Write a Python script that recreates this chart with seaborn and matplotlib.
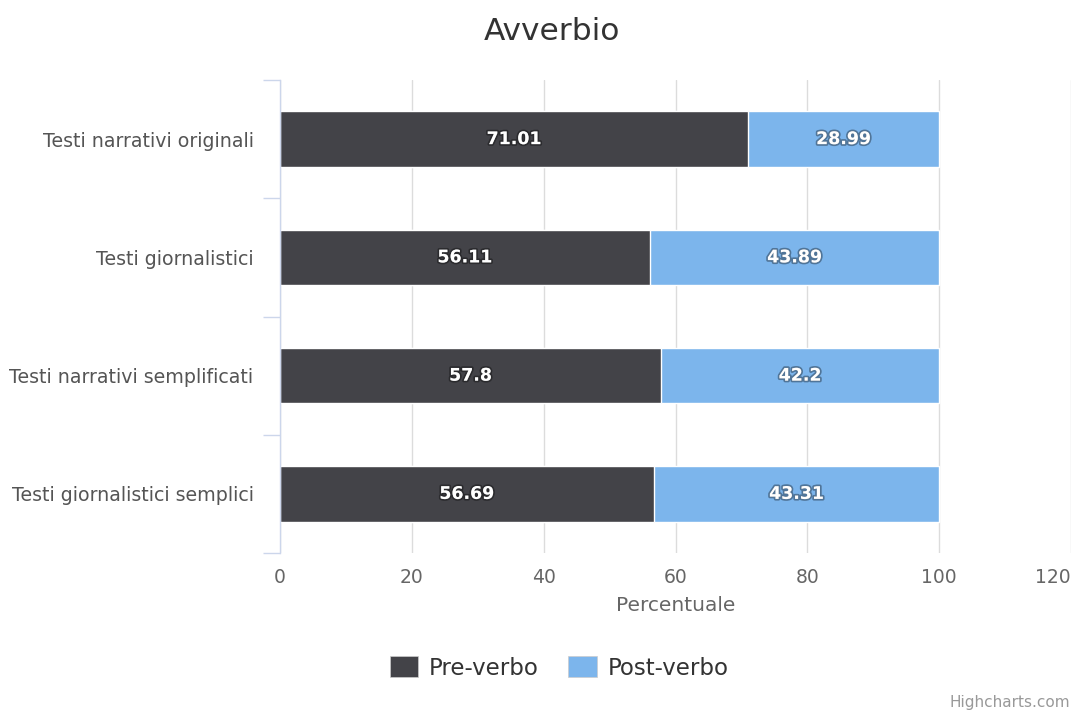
import matplotlib
matplotlib.use("Agg")
import matplotlib.pyplot as plt
import matplotlib.patheffects as pe
from matplotlib.patches import Patch
import numpy as np
import pandas as pd
import seaborn as sns

title = "Avverbio"
categories = [
    "Testi narrativi originali",
    "Testi giornalistici",
    "Testi narrativi semplificati",
    "Testi giornalistici semplici",
]
pre_verbo = [71.01, 56.11, 57.8, 56.69]
post_verbo = [28.99, 43.89, 42.2, 43.31]
series_names = ["Pre-verbo", "Post-verbo"]
x_ticks = [0, 20, 40, 60, 80, 100, 120]
x_title = "Percentuale"

c_pre = "#434348"
c_post = "#7cb5ec"

sns.set_theme(style="white")
plt.rcParams["font.family"] = ["DejaVu Sans"]

df = pd.DataFrame({
    "cat": categories,
    "pre": pre_verbo,
    "post": post_verbo,
})
df["total"] = df["pre"] + df["post"]

fig = plt.figure(figsize=(10.73, 7.11), dpi=100)
ax = fig.add_axes([280 / 1073, 1 - 553 / 711, (1071 - 280) / 1073, (553 - 80) / 711])

# stacked bars: full stack first, the left segment on top of it
sns.barplot(data=df, y="cat", x="total", color=c_post, orient="h", width=0.47,
            edgecolor="white", linewidth=1, saturation=1, ax=ax)
sns.barplot(data=df, y="cat", x="pre", color=c_pre, orient="h", width=0.47,
            edgecolor="white", linewidth=1, saturation=1, ax=ax)

ax.set_xlim(0, 120)
ax.set_ylim(3.5, -0.5)
ax.set_xticks(x_ticks)
ax.set_xticklabels([str(t) for t in x_ticks], fontsize=13.5, color="#666666")
# keep the last tick label inside the figure
ax.get_xticklabels()[-1].set_horizontalalignment("right")
ax.tick_params(axis="x", length=0, pad=11)
ax.grid(axis="x", color="#dcdcdc", linewidth=1)
ax.set_axisbelow(True)

ax.set_yticks(range(len(categories)))
ax.set_yticklabels(categories, fontsize=13.7, color="#555555")
ax.set_yticks(np.arange(-0.5, len(categories), 1), minor=True)
ax.tick_params(axis="y", which="major", length=0, pad=19)
ax.tick_params(axis="y", which="minor", length=12, width=1, color="#ccd6eb", left=True)

for s in ["top", "right", "bottom"]:
    ax.spines[s].set_visible(False)
ax.spines["left"].set_color("#ccd6eb")
ax.spines["left"].set_linewidth(1)

ax.set_ylabel("")
ax.set_xlabel(x_title, fontsize=14.5, color="#666666", labelpad=6)

shadow = [pe.withStroke(linewidth=2.5, foreground=(0, 0, 0, 0.35))]
for i, (p, q) in enumerate(zip(pre_verbo, post_verbo)):
    ax.text(p / 2, i, f"{p:g}", ha="center", va="center", color="white",
            fontsize=12.5, fontweight="bold", path_effects=shadow)
    ax.text(p + q / 2, i, f"{q:g}", ha="center", va="center", color="white",
            fontsize=12.5, fontweight="bold", path_effects=shadow)

fig.text(0.514, 1 - 31 / 711, title, ha="center", va="center", fontsize=22.5, color="#333333")

handles = [Patch(facecolor=c_pre, edgecolor="#cccccc", linewidth=0.5),
           Patch(facecolor=c_post, edgecolor="#cccccc", linewidth=0.5)]
fig.legend(handles, series_names, loc="center", bbox_to_anchor=(0.521, 1 - 668 / 711),
           ncol=2, frameon=False, fontsize=16.5, handlelength=1.25, handleheight=1.0,
           handletextpad=0.45, columnspacing=1.3, labelcolor="#333333")

fig.text(1 - 3 / 1073, 1 - 703 / 711, "Highcharts.com", ha="right", va="center",
         fontsize=11, color="#999999")

fig.savefig("out.png", dpi=100)
